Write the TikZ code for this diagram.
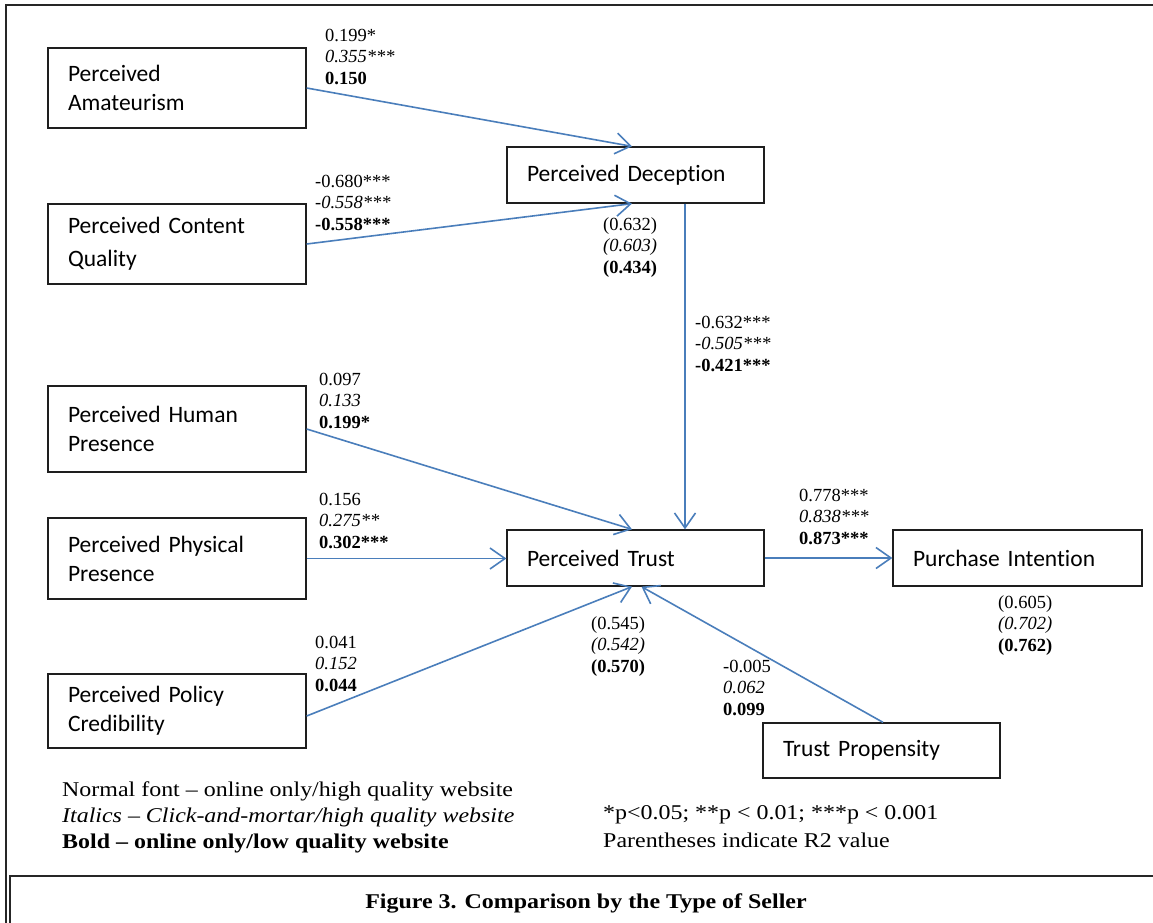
\documentclass[tikz,border=0pt]{standalone}
\usepackage{fontspec}
\setmainfont{Liberation Serif}
\newfontfamily\boxfont{Carlito}[Ligatures={NoCommon}]
\newfontfamily\legfont{Liberation Serif}[FakeStretch=1.14]
\usetikzlibrary{arrows.meta}
\definecolor{arrowblue}{RGB}{74,126,187}
\definecolor{boxline}{RGB}{30,30,30}
\newcommand{\coefs}[3]{\begin{tabular}[t]{@{}l@{}}#1\\\textit{#2}\\\textbf{#3}\end{tabular}}
\begin{document}
\begin{tikzpicture}[x=1pt,y=-1pt,
  box/.style n args={3}{draw=boxline, line width=1.3pt, fill=white,
    font=\boxfont\fontsize{23.5}{29}\selectfont, align=left,
    inner xsep=20pt, inner ysep=0pt,
    minimum width=#1pt, minimum height=#2pt, text width=#3pt},
  lbl/.style={anchor=base west, inner sep=0pt, font=\fontsize{18.5}{21.5}\selectfont},
  leg/.style={anchor=base west, inner sep=0pt},
  arr/.style={draw=arrowblue, line width=1.6pt, -{Straight Barb[length=15pt,width=21pt]}}]
\useasboundingbox (0,0) rectangle (1153,922);
\clip (0,0) rectangle (1153,922);
\fill[white] (0,0) rectangle (1153,922);
% outer frame and caption frame
\draw[line width=2pt, black!85] (6,940) -- (6,5) -- (1170,5);
\draw[line width=2pt, black!85] (10,940) -- (10,876) -- (1170,876);

% boxes
\node[box={258}{80}{218}] (am) at (177,88) {Perceived\\Amateurism};
\node[box={258}{80}{218}] (cq) at (177,244) {Perceived Content\\[4pt]Quality};
\node[box={257}{56}{217}] (dec) at (635.5,175) {Perceived Deception};
\node[box={258}{86}{218}] (hp) at (177,429) {Perceived Human\\Presence};
\node[box={258}{81}{218}] (pp) at (177,558.5) {Perceived Physical\\Presence};
\node[box={258}{74}{218}] (pc) at (177,711) {Perceived Policy\\Credibility};
\node[box={257}{56}{217}] (tr) at (635.5,558) {Perceived Trust};
\node[box={249}{56}{209}] (pi) at (1017.5,558) {Purchase Intention};
\node[box={237}{55}{197}] (tp) at (881.5,750.5) {Trust Propensity};

% connectors
\draw[arr] (am.east) -- ([xshift=-3.5pt]dec.north);
\draw[arr] (cq.east) -- ([xshift=-3.5pt]dec.south);
\draw[arr] ([xshift=49.5pt]dec.south) -- ([xshift=49.5pt]tr.north);
\draw[arr] (hp.east) -- ([xshift=-3.5pt]tr.north);
\draw[arr] (pp.east) -- (pp.east -| tr.west);
\draw[arr] ([yshift=-5pt]pc.east) -- ([xshift=-3.5pt]tr.south);
\draw[arr] ([xshift=1.5pt]tp.north) -- ([xshift=6pt]tr.south);
\draw[arr] (tr.east) -- (pi.west);

% coefficient labels
\node[lbl] (l-am) at (325,41) {\coefs{0.199*}{0.355***}{0.150}};
\node[lbl] (l-cq) at (315,187) {\coefs{-0.680***}{-0.558***}{-0.558***}};
\node[lbl] (r-dec) at (603,230) {\coefs{(0.632)}{(0.603)}{(0.434)}};
\node[lbl] (l-dt) at (695,328) {\coefs{-0.632***}{-0.505***}{-0.421***}};
\node[lbl] (l-hp) at (319,385) {\coefs{0.097}{0.133}{0.199*}};
\node[lbl] (l-pp) at (319,505) {\coefs{0.156}{0.275**}{0.302***}};
\node[lbl] (l-pc) at (315,648) {\coefs{0.041}{0.152}{0.044}};
\node[lbl] (r-tr) at (591,629) {\coefs{(0.545)}{(0.542)}{(0.570)}};
\node[lbl] (l-tp) at (723,672) {\coefs{-0.005}{0.062}{0.099}};
\node[lbl] (l-pi) at (799,501) {\coefs{0.778***}{0.838***}{0.873***}};
\node[lbl] (r-pi) at (998,608) {\coefs{(0.605)}{(0.702)}{(0.762)}};

% legends
\node[leg, font=\legfont\fontsize{21}{26}\selectfont] (leg1) at (62,796)
  {\begin{tabular}[t]{@{}l@{}}Normal font – online only/high quality website\\
   \textit{Italics – Click-and-mortar/high quality website}\\
   \textbf{Bold – online only/low quality website}\end{tabular}};
\node[leg, font=\legfont\fontsize{21}{28}\selectfont] (leg2) at (603,819)
  {\begin{tabular}[t]{@{}l@{}}*p<0.05; **p < 0.01; ***p < 0.001\\
   Parentheses indicate R2 value\end{tabular}};
\node[anchor=base, inner sep=0pt, font=\legfont\fontsize{21}{23}\selectfont\bfseries] (cap) at (586,908)
  {Figure 3. Comparison by the Type of Seller};
\end{tikzpicture}
\end{document}
